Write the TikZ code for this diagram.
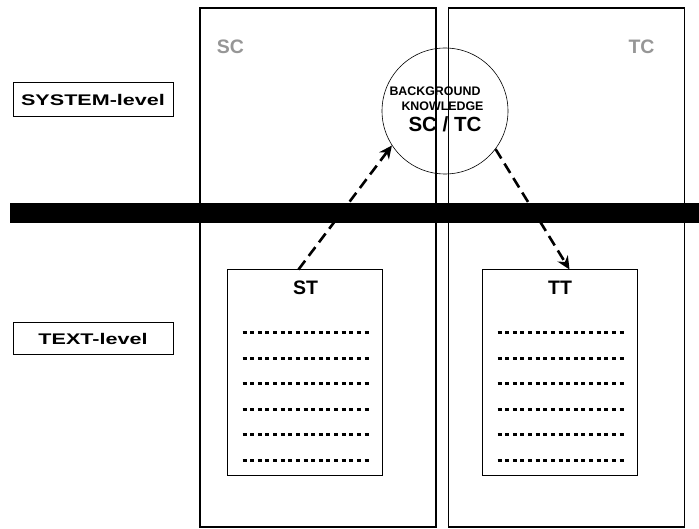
\documentclass[tikz,border=0pt]{standalone}
\usepackage{fontspec}
\setmainfont{Liberation Sans}
\newfontfamily\widefont{Liberation Sans}[FakeStretch=1.4]
\usetikzlibrary{arrows.meta, positioning, calc}
\usepackage{xcolor}
\definecolor{lgray}{RGB}{150,150,150}

\begin{document}
\begin{tikzpicture}[x=1pt,y=-1pt,
  column/.style={draw,line width=1.5pt,minimum width=236pt,minimum height=519pt,inner sep=0pt},
  levelbox/.style={draw,line width=1pt,minimum width=160pt,minimum height=34pt,
                   inner sep=0pt,font=\widefont\fontsize{15.4}{15.4}\selectfont\bfseries},
  doc/.style={draw,line width=1pt,minimum width=155pt,minimum height=205pt,inner sep=0pt},
  title/.style={anchor=base,inner sep=0pt,font=\fontsize{19.5}{19.5}\selectfont\bfseries},
  small/.style={anchor=base,inner sep=0pt,font=\fontsize{12.4}{12.4}\selectfont\bfseries},
  dots/.style={line width=3pt,dash pattern=on 4pt off 3.625pt},
  arr/.style={-{Stealth[length=13pt,width=12pt]},line width=2.6pt,dash pattern=on 11pt off 6pt}
]
\useasboundingbox (0,0) rectangle (699,529);
% columns
\node[column] (sc) at (318,267.5) {};
\node[column] (tc) at (566.5,267.5) {};
\node[title,text=lgray] (sclbl) at (230.5,54) {SC};
\node[title,text=lgray] (tclbl) at (641.5,54) {TC};
% level separator
\node[fill=black,minimum width=689pt,minimum height=20pt,inner sep=0pt] (bar) at (354.5,213) {};
% levels
\node[levelbox] (sys) at (93,100) {SYSTEM-level};
\node[levelbox,minimum height=32pt] (txt) at (93,339) {TEXT-level};
% background knowledge
\node[circle,draw,line width=0.6pt,minimum size=126pt,inner sep=0pt] (bk) at (445,111) {};
\node[small] (bkl1) at ($(bk.center)+(-10,-15)$) {BACKGROUND};
\node[small] (bkl2) at ($(bk.center)+(-2.5,0)$) {KNOWLEDGE};
\node[title,font=\fontsize{20.5}{20.5}\selectfont\bfseries] (bkl3) at ($(bk.center)+(0,21)$) {SC / TC};
% texts
\node[doc] (st) at (304.5,372.5) {};
\node[doc] (tt) at (559.5,372.5) {};
\node[title] (stlbl) at (305.5,295) {ST};
\node[title] (ttlbl) at (560,295) {TT};
\foreach \i in {0,...,5} {
  \draw[dots] ($(st.north west)+(16,63+25.6*\i)$) -- ++(126,0);
  \draw[dots] ($(tt.north west)+(16,63+25.6*\i)$) -- ++(126,0);
}
\draw[arr] ([xshift=-6pt]st.north) -- (bk.213);
\draw[arr] (bk.323) -- ([xshift=10pt]tt.north);
\end{tikzpicture}
\end{document}
